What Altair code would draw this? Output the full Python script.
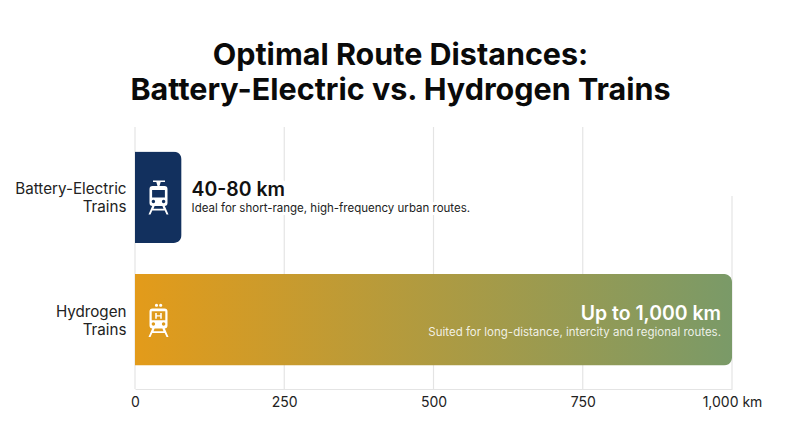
import altair as alt
import pandas as pd

TITLE = ["Optimal Route Distances:", "Battery-Electric vs. Hydrogen Trains"]
categories = ["Battery-Electric Trains", "Hydrogen Trains"]
bar_values = [78, 1000]
headlines = ["40-80 km", "Up to 1,000 km"]
details = ["Ideal for short-range, high-frequency urban routes.",
           "Suited for long-distance, intercity and regional routes."]
tick_values = [0, 250, 500, 750, 1000]

FONT = "Inter"
GRID = "#E4E4E4"
NAVY = "#12305E"

LEGS = ("M-0.62,0.85 L-0.38,0.85 L-0.5,1.14 L0.5,1.14 L0.38,0.85 L0.62,0.85 L1.0,1.72 L0.8,1.72 L0.62,1.32 "
        "L-0.62,1.32 L-0.8,1.72 L-1.0,1.72 Z ")
ICON_BATTERY = (
    "M-0.55,-1.68 L0.65,-1.68 L0.65,-1.52 L0.22,-1.52 L0.1,-1.13 L-0.1,-1.13 L-0.22,-1.52 L-0.55,-1.52 Z "
    "M-0.6,-1.13 L0.6,-1.13 Q0.9,-1.13 0.9,-0.83 L0.9,0.57 Q0.9,0.87 0.6,0.87 L-0.6,0.87 "
    "Q-0.9,0.87 -0.9,0.57 L-0.9,-0.83 Q-0.9,-1.13 -0.6,-1.13 Z "
    "M-0.64,-0.72 L-0.64,0.03 L0.64,0.03 L0.64,-0.72 Z "
    "M-0.68,0.43 a0.17,0.17 0 1 0 0.34,0 a0.17,0.17 0 1 0 -0.34,0 Z "
    "M0.34,0.43 a0.17,0.17 0 1 0 0.34,0 a0.17,0.17 0 1 0 -0.34,0 Z " + LEGS
)
ICON_HYDROGEN = (
    "M-0.36,-1.45 a0.16,0.16 0 1 1 0.32,0 a0.16,0.16 0 1 1 -0.32,0 Z "
    "M0.06,-1.45 a0.16,0.16 0 1 1 0.32,0 a0.16,0.16 0 1 1 -0.32,0 Z "
    "M-0.6,-1.13 L0.6,-1.13 Q0.9,-1.13 0.9,-0.83 L0.9,0.57 Q0.9,0.87 0.6,0.87 L-0.6,0.87 "
    "Q-0.9,0.87 -0.9,0.57 L-0.9,-0.83 Q-0.9,-1.13 -0.6,-1.13 Z "
    "M-0.68,-0.85 L-0.68,0.05 L0.68,0.05 L0.68,-0.85 Z "
    "M-0.33,-0.68 L-0.17,-0.68 L-0.17,-0.46 L0.17,-0.46 L0.17,-0.68 L0.33,-0.68 L0.33,-0.1 L0.17,-0.1 "
    "L0.17,-0.32 L-0.17,-0.32 L-0.17,-0.1 L-0.33,-0.1 Z "
    "M-0.68,0.43 a0.17,0.17 0 1 0 0.34,0 a0.17,0.17 0 1 0 -0.34,0 Z "
    "M0.34,0.43 a0.17,0.17 0 1 0 0.34,0 a0.17,0.17 0 1 0 -0.34,0 Z " + LEGS
)

df = pd.DataFrame({"cat": categories, "value": bar_values, "head": headlines, "detail": details})
ticks = pd.DataFrame({"tick": tick_values})
bat = df[df.cat == categories[0]]
hyd = df[df.cat == categories[1]]

x_scale = alt.Scale(domain=[0, 1000], range=[0, 597], nice=False)
y_scale = alt.Scale(domain=categories, range=[1, 262], paddingInner=0.253, paddingOuter=0.192)
x_axis = alt.Axis(values=tick_values, grid=False, ticks=False, domain=True, domainColor=GRID,
                  domainWidth=1.2, labelFont=FONT, labelFontSize=14, labelColor="#222222",
                  labelPadding=6, labelFlush=False, labelOverlap=False,
                  labelExpr="datum.value == 1000 ? '1,000 km' : format(datum.value, ',')")
y_axis = alt.Axis(domain=False, ticks=False, grid=False, labelFont=FONT, labelFontSize=15.2,
                  labelColor="#222222", labelPadding=9, labelLimit=200, labelLineHeight=18,
                  labelOffset=-8, labelExpr="split(datum.label, ' ')")
X = alt.X("value:Q", scale=x_scale, title=None, axis=x_axis)
Y = alt.Y("cat:N", scale=y_scale, title=None, axis=y_axis)
X_TICK = alt.X("tick:Q", scale=x_scale, title=None, axis=x_axis)

bar_style = dict(cornerRadiusTopRight=8, cornerRadiusBottomRight=8)
bar_bat = alt.Chart(bat).mark_bar(color=NAVY, **bar_style).encode(x=X, y=Y)
bar_hyd = alt.Chart(hyd).mark_bar(
    color=alt.LinearGradient(gradient="linear", x1=0, x2=1, y1=0, y2=0,
                             stops=[alt.GradientStop(color="#E39B1A", offset=0),
                                    alt.GradientStop(color="#7A9A68", offset=1)]),
    **bar_style).encode(x=X, y=Y)

grid_full = alt.Chart(ticks[ticks.tick < 1000]).mark_rule(color=GRID, strokeWidth=1.2).encode(
    x=X_TICK, y=alt.value(0), y2=alt.value(262))
grid_last = alt.Chart(ticks[ticks.tick == 1000]).mark_rule(color=GRID, strokeWidth=1.2).encode(
    x=X_TICK, y=alt.value(69), y2=alt.value(262))

icon_x = alt.value(23.5)
icon_bat = alt.Chart(bat).mark_point(shape=ICON_BATTERY, size=400, filled=True, fill="white", opacity=1, strokeWidth=0).encode(
    x=icon_x, y=Y)
icon_hyd = alt.Chart(hyd).mark_point(shape=ICON_HYDROGEN, size=400, filled=True, fill="white", opacity=1, strokeWidth=0).encode(
    x=icon_x, y=Y)

def text_layer(data, field, **kw):
    return alt.Chart(data).mark_text(font=FONT, **kw).encode(x=X, y=Y, text=f"{field}:N")

head_kw = dict(align="left", dx=10, dy=-7, fontSize=19.4, fontWeight=600)
det_kw = dict(align="left", dx=10, dy=12, fontSize=11.5, fontWeight=400)
halo_head = text_layer(bat, "head", color="white", stroke="white", strokeWidth=10, **head_kw)
halo_det = text_layer(bat, "detail", color="white", stroke="white", strokeWidth=6, **det_kw)
head_bat = text_layer(bat, "head", color="#111111", **head_kw)
det_bat = text_layer(bat, "detail", color="#222222", **det_kw)
head_hyd = text_layer(hyd, "head", color="white", align="right", dx=-11, dy=-6, fontSize=19.4, fontWeight=600)
det_hyd = text_layer(hyd, "detail", color="#FFFFFFDD", align="right", dx=-11, dy=13, fontSize=11.5, fontWeight=400)

chart = alt.layer(
    grid_full, grid_last, bar_bat, bar_hyd, icon_bat, icon_hyd,
    halo_head, halo_det, head_bat, det_bat, head_hyd, det_hyd
).properties(
    width=597, height=262,
    title=alt.Title(text=TITLE, font=FONT, fontSize=30.5, fontWeight=700, color="#0A0A0A",
                    anchor="middle", lineHeight=35, dx=-33, offset=20),
    padding={"left": 127, "top": 119, "right": 60, "bottom": 40},
    autosize=alt.AutoSizeParams(type="none"),
    background="white",
).configure_view(stroke=None)

chart.save("out.html", embed_options={"renderer": "svg", "actions": False})
